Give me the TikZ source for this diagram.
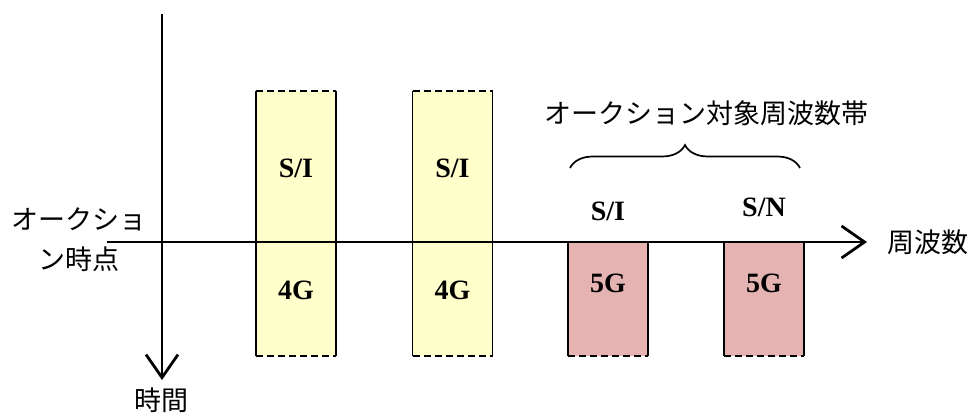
\documentclass[tikz,border=0pt]{standalone}
\usepackage{fontspec}
\setmainfont{Liberation Serif}
\newfontfamily\jp{Noto Sans CJK JP}
\usetikzlibrary{arrows.meta,decorations.pathreplacing}
\definecolor{pale}{HTML}{FFFFCC}
\definecolor{rose}{HTML}{E5B3B2}

\begin{document}
\begin{tikzpicture}[x=1pt, y=-1pt, line width=1.7pt,
  every node/.style={inner sep=0pt, outer sep=0pt},
  band/.style={minimum width=80pt},
  oldband/.style={band, fill=pale, minimum height=265pt},
  newband/.style={band, fill=rose, minimum height=114pt},
  cut/.style={dash pattern=on 7pt off 4pt},
  lab/.style={font=\fontsize{28}{28}\selectfont\bfseries},
  jlab/.style={font=\jp\fontsize{27}{40}\selectfont},
  axis/.style={line width=2.8pt, -{Straight Barb[length=23pt, width=32pt]}}]
\useasboundingbox (0,0) rectangle (976,417);
\node[oldband] (g1) at (296,223.5) {};
\node[oldband] (g2) at (452.5,223.5) {};
\node[newband] (n1) at (608,299) {};
\node[newband] (n2) at (764,299) {};
\foreach \b in {g1,g2} {
  \draw[cut] (\b.north west) -- (\b.north east) (\b.south west) -- (\b.south east);
  \draw (\b.north west) -- (\b.south west) (\b.north east) -- (\b.south east);
}
\foreach \b in {n1,n2} {
  \draw[cut] (\b.south west) -- (\b.south east);
  \draw (\b.north west) -- (\b.south west) (\b.north east) -- (\b.south east);
}
\coordinate (t0) at (162,14);
\coordinate (t1) at (162,380);
\coordinate (f0) at (107,242);
\coordinate (f1) at (867,242);
\draw[axis] (t0) -- (t1);
\draw[axis] (f0) -- (f1);
\node[lab] (si1) at (296,168) {S/I};
\node[lab] (g4a) at (296,290) {4G};
\node[lab] (si2) at (452.5,168) {S/I};
\node[lab] (g4b) at (452.5,290) {4G};
\node[lab] (g5a) at (608,283) {5G};
\node[lab] (g5b) at (764,283) {5G};
\node[lab] (si3) at (608,211) {S/I};
\node[lab] (sn) at (764,207) {S/N};
\coordinate (b0) at (570,168);
\coordinate (b1) at (800,168);
\draw[line width=1.7pt, decorate, decoration={brace, amplitude=23pt}] (b0) -- (b1);
\node[jlab] (band) at (706,113) {オークション対象周波数帯};
\node[jlab, align=center] (auc) at (79,240) {オークショ\\ン時点};
\node[jlab] (freq) at (927.5,242) {周波数};
\node[jlab] (time) at (161.5,400) {時間};
\end{tikzpicture}
\end{document}
